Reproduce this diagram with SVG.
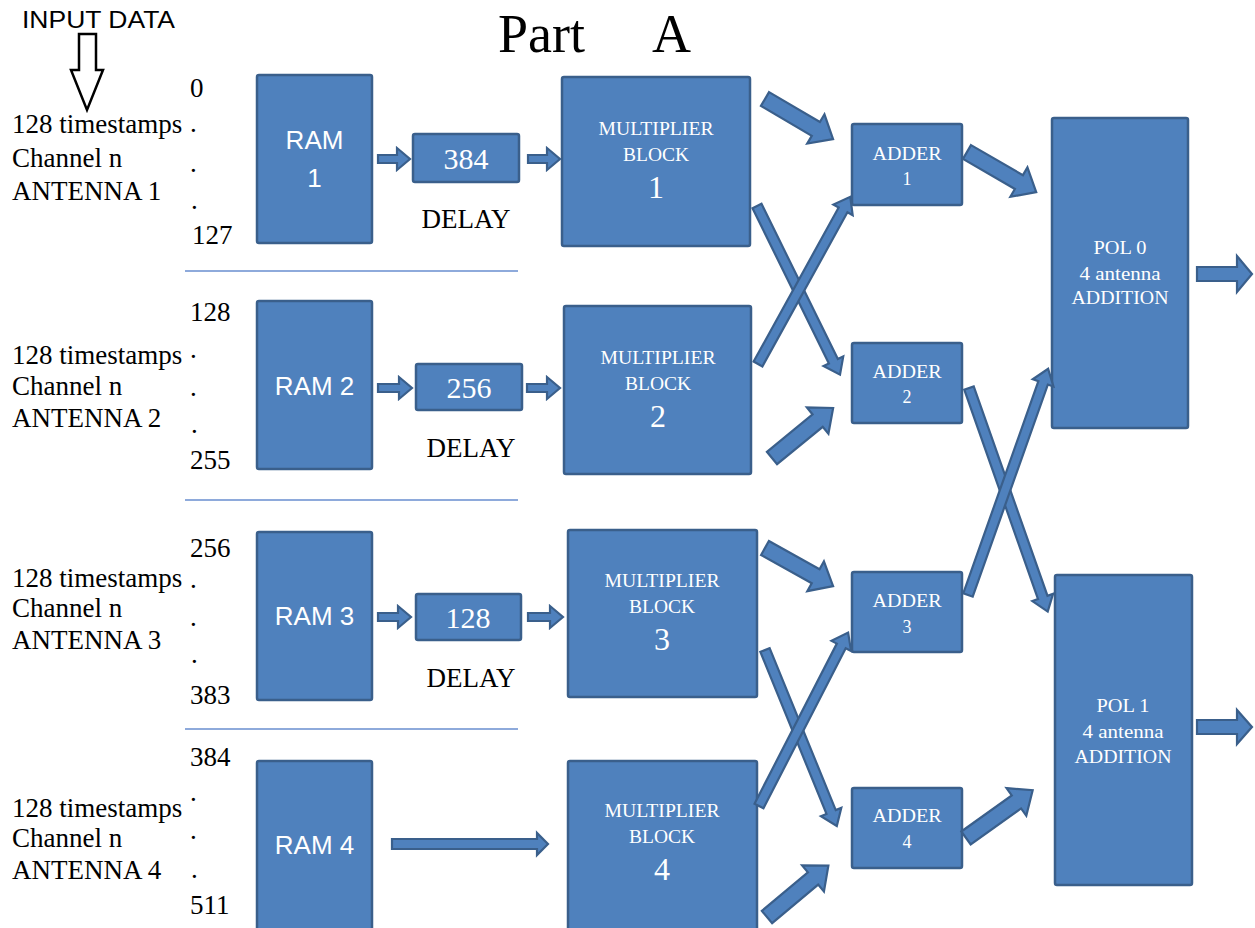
<svg xmlns="http://www.w3.org/2000/svg" width="1255" height="928" viewBox="0 0 1255 928">
  <style>
    .blk { fill: #4F81BD; stroke: #3A5F8B; stroke-width: 2.5; }
    .arr { fill: #4F81BD; stroke: #3A5F8B; stroke-width: 2.2; stroke-linejoin: miter; }
    .sep { stroke: #8EAADB; stroke-width: 2; }
    .lbl { font-family: "Liberation Serif", "Times New Roman", serif; font-size: 27px; fill: #000; }
    .num { font-family: "Liberation Serif", "Times New Roman", serif; font-size: 27px; fill: #000; }
    .ram { font-family: "Liberation Sans", Arial, sans-serif; font-size: 26px; fill: #fff; text-anchor: middle; }
    .dly { font-family: "Liberation Serif", "Times New Roman", serif; font-size: 30px; fill: #fff; text-anchor: middle; }
    .slab { font-family: "Liberation Serif", "Times New Roman", serif; font-size: 18px; fill: #fff; text-anchor: middle; }
    .big { font-family: "Liberation Serif", "Times New Roman", serif; font-size: 32px; fill: #fff; text-anchor: middle; }
    .ttl { font-family: "Liberation Serif", "Times New Roman", serif; font-size: 54px; fill: #000; }
  </style>

  <!-- headings -->
  <text x="22" y="28" font-family="Liberation Sans, Arial, sans-serif" font-size="23" textLength="153" lengthAdjust="spacingAndGlyphs">INPUT DATA</text>
  <text class="ttl" x="498" y="52">Part</text>
  <text class="ttl" x="652" y="52">A</text>

  <!-- input data arrow (outline) -->
  <path d="M79,34 H96 V70 H103 L87,110 L71,70 H79 Z" fill="#fff" stroke="#000" stroke-width="2.5" stroke-linejoin="miter"/>

  <!-- row separators -->
  <line class="sep" x1="185" y1="271" x2="518" y2="271"/>
  <line class="sep" x1="185" y1="500" x2="518" y2="500"/>
  <line class="sep" x1="185" y1="729" x2="518" y2="729"/>

  <!-- antenna inputs -->
  <g id="input1">
    <text class="lbl" x="12" y="133">128 timestamps</text>
    <text class="lbl" x="12" y="167">Channel n</text>
    <text class="lbl" x="12" y="200">ANTENNA 1</text>
    <text class="num" x="190" y="97">0</text>
    <text class="num" x="190" y="132">.</text>
    <text class="num" x="190" y="172">.</text>
    <text class="num" x="191" y="209">.</text>
    <text class="num" x="192" y="244">127</text>
  </g>
  <g id="input2">
    <text class="lbl" x="12" y="364">128 timestamps</text>
    <text class="lbl" x="12" y="395">Channel n</text>
    <text class="lbl" x="12" y="427">ANTENNA 2</text>
    <text class="num" x="190" y="321">128</text>
    <text class="num" x="190" y="358">.</text>
    <text class="num" x="190" y="396">.</text>
    <text class="num" x="191" y="433">.</text>
    <text class="num" x="190" y="469">255</text>
  </g>
  <g id="input3">
    <text class="lbl" x="12" y="587">128 timestamps</text>
    <text class="lbl" x="12" y="617">Channel n</text>
    <text class="lbl" x="12" y="649">ANTENNA 3</text>
    <text class="num" x="190" y="557">256</text>
    <text class="num" x="190" y="588">.</text>
    <text class="num" x="190" y="626">.</text>
    <text class="num" x="191" y="663">.</text>
    <text class="num" x="190" y="704">383</text>
  </g>
  <g id="input4">
    <text class="lbl" x="12" y="817">128 timestamps</text>
    <text class="lbl" x="12" y="847">Channel n</text>
    <text class="lbl" x="12" y="879">ANTENNA 4</text>
    <text class="num" x="190" y="766">384</text>
    <text class="num" x="190" y="801">.</text>
    <text class="num" x="190" y="839">.</text>
    <text class="num" x="191" y="878">.</text>
    <text class="num" x="190" y="914">511</text>
  </g>

  <!-- RAM blocks -->
  <g id="ram1">
    <rect class="blk" x="257" y="75" width="115" height="168" rx="2"/>
    <text class="ram" x="314.5" y="149">RAM</text>
    <text class="ram" x="314.5" y="187">1</text>
  </g>
  <g id="ram2">
    <rect class="blk" x="257" y="301" width="115" height="168" rx="2"/>
    <text class="ram" x="314.5" y="395">RAM 2</text>
  </g>
  <g id="ram3">
    <rect class="blk" x="257" y="532" width="115" height="168" rx="2"/>
    <text class="ram" x="314.5" y="625">RAM 3</text>
  </g>
  <g id="ram4">
    <rect class="blk" x="257" y="761" width="115" height="170" rx="2"/>
    <text class="ram" x="314.5" y="854">RAM 4</text>
  </g>

  <!-- delay blocks -->
  <g id="delay384">
    <rect class="blk" x="413" y="134" width="106" height="48" rx="2"/>
    <text class="dly" x="466" y="169">384</text>
    <text class="lbl" x="466" y="228" text-anchor="middle">DELAY</text>
  </g>
  <g id="delay256">
    <rect class="blk" x="416" y="364" width="106" height="46" rx="2"/>
    <text class="dly" x="469" y="398">256</text>
    <text class="lbl" x="471" y="457" text-anchor="middle">DELAY</text>
  </g>
  <g id="delay128">
    <rect class="blk" x="416" y="594" width="105" height="46" rx="2"/>
    <text class="dly" x="468" y="628">128</text>
    <text class="lbl" x="471" y="687" text-anchor="middle">DELAY</text>
  </g>

  <!-- multiplier blocks -->
  <g id="mult1">
    <rect class="blk" x="562" y="77" width="188" height="169" rx="2"/>
    <text class="slab" x="656" y="135" textLength="115" lengthAdjust="spacingAndGlyphs">MULTIPLIER</text>
    <text class="slab" x="656" y="161" textLength="66" lengthAdjust="spacingAndGlyphs">BLOCK</text>
    <text class="big" x="656" y="198">1</text>
  </g>
  <g id="mult2">
    <rect class="blk" x="564" y="306" width="187" height="168" rx="2"/>
    <text class="slab" x="658" y="364" textLength="115" lengthAdjust="spacingAndGlyphs">MULTIPLIER</text>
    <text class="slab" x="658" y="390" textLength="66" lengthAdjust="spacingAndGlyphs">BLOCK</text>
    <text class="big" x="658" y="427">2</text>
  </g>
  <g id="mult3">
    <rect class="blk" x="568" y="530" width="189" height="167" rx="2"/>
    <text class="slab" x="662" y="587" textLength="115" lengthAdjust="spacingAndGlyphs">MULTIPLIER</text>
    <text class="slab" x="662" y="613" textLength="66" lengthAdjust="spacingAndGlyphs">BLOCK</text>
    <text class="big" x="662" y="650">3</text>
  </g>
  <g id="mult4">
    <rect class="blk" x="568" y="761" width="189" height="170" rx="2"/>
    <text class="slab" x="662" y="817" textLength="115" lengthAdjust="spacingAndGlyphs">MULTIPLIER</text>
    <text class="slab" x="662" y="843" textLength="66" lengthAdjust="spacingAndGlyphs">BLOCK</text>
    <text class="big" x="662" y="880">4</text>
  </g>

  <!-- adders -->
  <g id="adder1">
    <rect class="blk" x="852" y="124" width="110" height="81" rx="2"/>
    <text class="slab" x="907" y="160" textLength="69" lengthAdjust="spacingAndGlyphs">ADDER</text>
    <text class="slab" x="907" y="185">1</text>
  </g>
  <g id="adder2">
    <rect class="blk" x="852" y="343" width="110" height="80" rx="2"/>
    <text class="slab" x="907" y="378" textLength="69" lengthAdjust="spacingAndGlyphs">ADDER</text>
    <text class="slab" x="907" y="403">2</text>
  </g>
  <g id="adder3">
    <rect class="blk" x="852" y="572" width="110" height="80" rx="2"/>
    <text class="slab" x="907" y="607" textLength="69" lengthAdjust="spacingAndGlyphs">ADDER</text>
    <text class="slab" x="907" y="633">3</text>
  </g>
  <g id="adder4">
    <rect class="blk" x="852" y="788" width="110" height="80" rx="2"/>
    <text class="slab" x="907" y="822" textLength="69" lengthAdjust="spacingAndGlyphs">ADDER</text>
    <text class="slab" x="907" y="848">4</text>
  </g>

  <!-- polarisation sums -->
  <g id="pol0">
    <rect class="blk" x="1052" y="118" width="136" height="310" rx="2"/>
    <text class="slab" x="1120" y="254" textLength="53" lengthAdjust="spacingAndGlyphs">POL 0</text>
    <text class="slab" x="1120" y="280" textLength="81" lengthAdjust="spacingAndGlyphs">4 antenna</text>
    <text class="slab" x="1120" y="304" textLength="97" lengthAdjust="spacingAndGlyphs">ADDITION</text>
  </g>
  <g id="pol1">
    <rect class="blk" x="1055" y="575" width="137" height="310" rx="2"/>
    <text class="slab" x="1123" y="712" textLength="53" lengthAdjust="spacingAndGlyphs">POL 1</text>
    <text class="slab" x="1123" y="738" textLength="81" lengthAdjust="spacingAndGlyphs">4 antenna</text>
    <text class="slab" x="1123" y="763" textLength="97" lengthAdjust="spacingAndGlyphs">ADDITION</text>
  </g>

  <!-- connectors: block arrows -->
  <g id="connectors">
    <!-- RAM -> delay -> multiplier -->
    <path class="arr" d="M378,155 H397 V148 L410,159 L397,170 V163 H378 Z"/>
    <path class="arr" d="M528,155 H547 V148 L560,159 L547,170 V163 H528 Z"/>
    <path class="arr" d="M378,384 H399 V377 L412,388 L399,399 V392 H378 Z"/>
    <path class="arr" d="M527,384 H547 V377 L560,388 L547,399 V392 H527 Z"/>
    <path class="arr" d="M378,613 H398 V606 L411,617 L398,628 V621 H378 Z"/>
    <path class="arr" d="M528,613 H550 V606 L563,617 L550,628 V621 H528 Z"/>
    <path class="arr" d="M392,839 H537 V833 L548,844 L537,855 V849 H392 Z"/>

    <!-- multiplier -> adder, wide -->
    <path class="arr" transform="translate(765,99) rotate(30.5)" d="M0,-8 H59 V-17 L79,0 L59,17 V8 H0 Z"/>
    <path class="arr" transform="translate(772,458) rotate(-39.3)" d="M0,-8 H59 V-17 L79,0 L59,17 V8 H0 Z"/>
    <path class="arr" transform="translate(765,548) rotate(29.2)" d="M0,-8 H58 V-17 L78,0 L58,17 V8 H0 Z"/>
    <path class="arr" transform="translate(767,917) rotate(-39.9)" d="M0,-8 H60 V-17 L80,0 L60,17 V8 H0 Z"/>

    <!-- multiplier -> adder, crossing -->
    <path class="arr" transform="translate(757,206) rotate(63.8)" d="M0,-5 H173 V-11 L188,0 L173,11 V5 H0 Z"/>
    <path class="arr" transform="translate(758,364) rotate(-61.1)" d="M0,-5 H176 V-11 L191,0 L176,11 V5 H0 Z"/>
    <path class="arr" transform="translate(765,650) rotate(67.8)" d="M0,-5 H175 V-11 L190,0 L175,11 V5 H0 Z"/>
    <path class="arr" transform="translate(759,806) rotate(-62.8)" d="M0,-5 H180 V-11 L195,0 L180,11 V5 H0 Z"/>

    <!-- adder -> polarisation sums -->
    <path class="arr" transform="translate(967,152) rotate(30.1)" d="M0,-8 H60 V-17 L80,0 L60,17 V8 H0 Z"/>
    <path class="arr" transform="translate(966,838) rotate(-35.6)" d="M0,-8 H62 V-17 L82,0 L62,17 V8 H0 Z"/>
    <path class="arr" transform="translate(969,388) rotate(70.6)" d="M0,-5 H222 V-11 L237,0 L222,11 V5 H0 Z"/>
    <path class="arr" transform="translate(968,595) rotate(-70.5)" d="M0,-5 H225 V-11 L240,0 L225,11 V5 H0 Z"/>

    <!-- outputs -->
    <path class="arr" d="M1197,267 H1237 V256 L1252,274 L1237,292 V281 H1197 Z"/>
    <path class="arr" d="M1197,720 H1237 V710 L1252,727 L1237,744 V734 H1197 Z"/>
  </g>
</svg>
